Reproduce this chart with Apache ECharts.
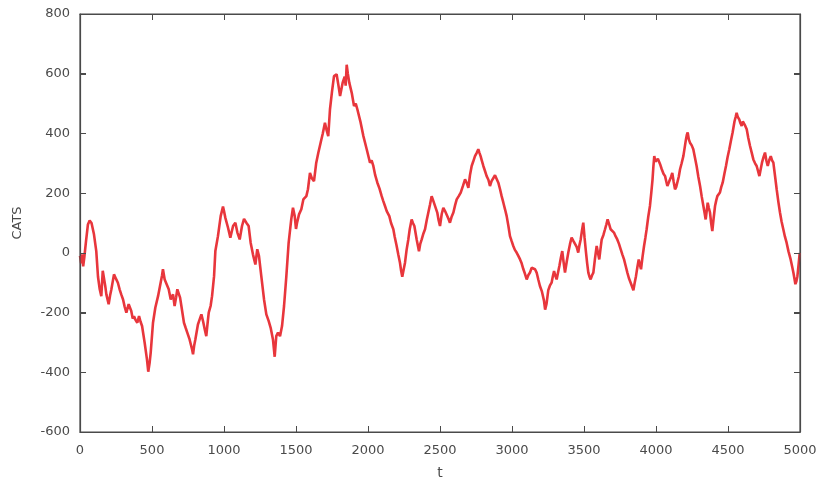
<!DOCTYPE html>
<html>
<head>
<meta charset="utf-8">
<script src="https://cdn.jsdelivr.net/npm/echarts@6/dist/echarts.min.js"></script>
<style>
  html, body { margin: 0; padding: 0; background: #ffffff; }
  #chart { width: 822px; height: 491px; }
</style>
</head>
<body>
<div id="chart"></div>
<script>
// Time steps of the walk
const tValues = [
  0, 8, 15, 22, 30, 42, 55, 67, 80, 97, 113, 125, 137, 148, 158, 167, 175, 183, 199, 210,
  218, 236, 252, 263, 275, 287, 299, 310, 322, 338, 356, 366, 375, 386, 398, 410, 420, 431, 449, 465,
  474, 483, 491, 507, 523, 542, 560, 570, 576, 588, 600, 616, 630, 646, 657, 667, 676, 685, 695, 704,
  722, 733, 745, 761, 778, 785, 793, 801, 819, 831, 843, 855, 866, 877, 885, 894, 907, 917, 931, 940,
  958, 977, 993, 1000, 1009, 1028, 1044, 1063, 1079, 1093, 1109, 1125, 1139, 1155, 1171, 1185, 1201, 1218, 1231, 1243,
  1259, 1278, 1294, 1310, 1324, 1340, 1352, 1363, 1375, 1389, 1403, 1417, 1433, 1449, 1467, 1479, 1491, 1500, 1507, 1521,
  1537, 1551, 1572, 1583, 1597, 1610, 1625, 1640, 1655, 1671, 1686, 1701, 1713, 1724, 1736, 1750, 1764, 1782, 1795, 1806,
  1824, 1838, 1845, 1852, 1860, 1870, 1887, 1903, 1915, 1926, 1949, 1968, 1991, 2014, 2025, 2037, 2050, 2065, 2080, 2095,
  2105, 2118, 2130, 2148, 2160, 2176, 2185, 2199, 2210, 2222, 2230, 2238, 2248, 2257, 2268, 2280, 2290, 2303, 2312, 2322,
  2338, 2354, 2363, 2373, 2385, 2396, 2408, 2419, 2430, 2442, 2453, 2465, 2481, 2490, 2500, 2512, 2523, 2535, 2546, 2558,
  2569, 2580, 2593, 2605, 2616, 2630, 2644, 2660, 2674, 2685, 2697, 2708, 2720, 2730, 2743, 2755, 2766, 2774, 2782, 2790,
  2801, 2812, 2824, 2836, 2847, 2858, 2870, 2882, 2894, 2905, 2917, 2928, 2940, 2952, 2963, 2975, 2986, 2997, 3009, 3020,
  3032, 3044, 3056, 3067, 3079, 3090, 3102, 3113, 3125, 3136, 3148, 3160, 3171, 3183, 3194, 3208, 3222, 3230, 3240, 3252,
  3263, 3275, 3283, 3292, 3300, 3310, 3320, 3329, 3340, 3349, 3358, 3368, 3380, 3391, 3403, 3414, 3426, 3438, 3449, 3460,
  3468, 3477, 3486, 3495, 3504, 3514, 3522, 3530, 3538, 3546, 3556, 3565, 3576, 3588, 3597, 3606, 3615, 3623, 3635, 3646,
  3655, 3664, 3675, 3685, 3697, 3708, 3720, 3731, 3743, 3755, 3766, 3778, 3790, 3801, 3812, 3824, 3833, 3843, 3852, 3861,
  3870, 3880, 3888, 3896, 3906, 3917, 3926, 3935, 3946, 3958, 3967, 3976, 3982, 3988, 3996, 4005, 4013, 4021, 4030, 4040,
  4052, 4063, 4071, 4079, 4088, 4097, 4105, 4113, 4122, 4132, 4140, 4148, 4158, 4167, 4178, 4190, 4200, 4208, 4214, 4220,
  4228, 4236, 4248, 4259, 4270, 4282, 4294, 4306, 4317, 4329, 4337, 4345, 4352, 4359, 4367, 4375, 4383, 4391, 4400, 4410,
  4418, 4426, 4435, 4444, 4453, 4463, 4475, 4486, 4497, 4509, 4520, 4532, 4545, 4553, 4560, 4568, 4578, 4586, 4595, 4603,
  4611, 4620, 4630, 4641, 4653, 4665, 4676, 4688, 4699, 4708, 4718, 4727, 4736, 4746, 4757, 4766, 4776, 4786, 4797, 4806,
  4815, 4826, 4838, 4850, 4861, 4872, 4884, 4895, 4907, 4920, 4935, 4945, 4954, 4961, 4968, 4975, 4982, 4990, 4998
];

// CATS value at each step
const catsValues = [
  -10, -35, -5, -45, -15, 40, 95, 108, 100, 62, 6, -80, -122, -145, -60, -55, -110, -139, -172, -140,
  -122, -72, -89, -100, -122, -140, -156, -180, -200, -172, -195, -220, -212, -225, -234, -212, -230, -245, -301, -357,
  -398, -370, -334, -234, -184, -145, -100, -75, -55, -89, -83, -122, -156, -139, -178, -150, -122, -117, -150, -178,
  -234, -250, -267, -290, -323, -340, -310, -290, -240, -223, -206, -230, -256, -279, -240, -200, -178, -145, -78, 6,
  56, 123, 155, 140, 118, 84, 51, 90, 101, 68, 45, 90, 114, 101, 90, 34, -5, -39, 12, -11,
  -78, -156, -206, -228, -251, -290, -348, -279, -267, -279, -245, -178, -78, 34, 112, 151, 123, 80, 100, 129,
  146, 179, 190, 213, 268, 250, 240, 300, 335, 369, 400, 436, 410, 391, 481, 540, 592, 598, 560, 525,
  570, 590, 560, 630, 600, 570, 536, 492, 500, 481, 436, 391, 347, 302, 310, 291, 260, 235, 215, 190,
  175, 157, 140, 123, 100, 79, 55, 23, -5, -33, -60, -80, -55, -33, 10, 45, 80, 112, 100, 90,
  45, 5, 30, 45, 65, 79, 110, 135, 160, 190, 175, 179, 135, 110, 90, 130, 151, 140, 135, 115,
  101, 120, 135, 160, 179, 190, 202, 225, 246, 235, 218, 260, 291, 305, 324, 335, 347, 335, 324, 310,
  291, 275, 257, 245, 224, 240, 246, 260, 257, 235, 213, 190, 168, 145, 123, 90, 56, 40, 23, 10,
  1, -10, -22, -35, -55, -70, -89, -75, -66, -50, -44, -55, -66, -90, -111, -130, -160, -190, -170, -125,
  -110, -100, -80, -61, -75, -89, -65, -44, -15, 6, -30, -66, -30, 1, 30, 51, 40, 34, 20, 1,
  25, 45, 75, 101, 50, 1, -35, -66, -80, -89, -75, -66, -20, 23, 0, -22, 15, 45, 60, 79,
  95, 112, 95, 79, 75, 68, 55, 45, 30, 12, -5, -22, -45, -66, -85, -100, -112, -125, -100, -78,
  -50, -22, -40, -55, -15, 23, 50, 79, 120, 157, 200, 246, 290, 324, 305, 302, 315, 313, 295, 280,
  265, 257, 240, 224, 235, 246, 255, 268, 240, 213, 220, 224, 255, 280, 300, 324, 355, 380, 395, 403,
  380, 369, 360, 347, 320, 291, 255, 224, 190, 157, 135, 112, 140, 168, 150, 135, 100, 73, 115, 157,
  175, 190, 195, 202, 220, 235, 265, 291, 320, 347, 375, 403, 440, 455, 469, 455, 447, 435, 425, 440,
  436, 425, 414, 385, 358, 335, 313, 300, 291, 275, 257, 280, 302, 320, 336, 310, 291, 310, 324, 310,
  302, 260, 213, 170, 135, 105, 79, 55, 34, 5, -22, -45, -66, -85, -105, -95, -78, -40, 0
];

// Axis ranges and steps
const xRange = [0, 5000];
const xStep = 500;
const yRange = [-600, 800];
const yStep = 200;

const points = tValues.map((t, i) => [t, catsValues[i]]);

const AXIS_COLOR = '#4a4a4a';
const TICK_LEN = 6;

function frameLine() {
  return { show: true, onZero: false, lineStyle: { color: AXIS_COLOR, width: 1.2 } };
}
function innerTick() {
  return { show: true, inside: true, length: TICK_LEN, lineStyle: { color: AXIS_COLOR, width: 1 } };
}
function xAxisDef(extra) {
  return Object.assign({
    type: 'value', min: xRange[0], max: xRange[1], interval: xStep,
    axisLine: frameLine(), axisTick: innerTick(), splitLine: { show: false }
  }, extra);
}
function yAxisDef(extra) {
  return Object.assign({
    type: 'value', min: yRange[0], max: yRange[1], interval: yStep,
    axisLine: frameLine(), axisTick: innerTick(), splitLine: { show: false }
  }, extra);
}

const chart = echarts.init(document.getElementById('chart'));
chart.setOption({
  animation: false,
  grid: { left: 80, right: 22, top: 14, bottom: 59 },
  xAxis: [
    xAxisDef({
      position: 'bottom',
      name: 't', nameLocation: 'middle', nameGap: 34,
      nameTextStyle: { color: AXIS_COLOR, fontFamily: 'DejaVu Sans', fontSize: 14 },
      axisLabel: { formatter: v => String(v), color: AXIS_COLOR, fontFamily: 'DejaVu Sans', fontSize: 13, margin: 12 }
    }),
    xAxisDef({ position: 'top', axisLabel: { show: false } })
  ],
  yAxis: [
    yAxisDef({
      position: 'left',
      name: 'CATS', nameLocation: 'middle', nameGap: 56, nameRotate: 90,
      nameTextStyle: { color: AXIS_COLOR, fontFamily: 'DejaVu Sans', fontSize: 13 },
      axisLabel: { formatter: v => String(v), color: AXIS_COLOR, fontFamily: 'DejaVu Sans', fontSize: 13, margin: 10 }
    }),
    yAxisDef({ position: 'right', axisLabel: { show: false } })
  ],
  series: [
    {
      type: 'line',
      data: points,
      showSymbol: false,
      lineStyle: { color: '#e8363c', width: 2.6 }
    }
  ]
});

// Plot frame with inward ticks on all four sides, placed through the axis scales
(function drawFrame() {
  const finder = { xAxisIndex: 0, yAxisIndex: 0 };
  const topLeft = chart.convertToPixel(finder, [xRange[0], yRange[1]]);
  const bottomRight = chart.convertToPixel(finder, [xRange[1], yRange[0]]);
  const left = topLeft[0], top = topLeft[1], right = bottomRight[0], bottom = bottomRight[1];
  const stroke = { stroke: AXIS_COLOR, lineWidth: 1 };
  const elements = [{
    type: 'rect', silent: true, z: 100,
    shape: { x: left, y: top, width: right - left, height: bottom - top },
    style: { fill: 'transparent', stroke: AXIS_COLOR, lineWidth: 1.2 }
  }];
  for (let v = xRange[0]; v <= xRange[1]; v += xStep) {
    const px = Math.round(chart.convertToPixel({ xAxisIndex: 0 }, v)) + 0.5;
    elements.push({ type: 'line', silent: true, z: 100, shape: { x1: px, y1: bottom, x2: px, y2: bottom - TICK_LEN }, style: stroke });
    elements.push({ type: 'line', silent: true, z: 100, shape: { x1: px, y1: top, x2: px, y2: top + TICK_LEN }, style: stroke });
  }
  for (let v = yRange[0]; v <= yRange[1]; v += yStep) {
    const py = Math.round(chart.convertToPixel({ yAxisIndex: 0 }, v)) + 0.5;
    elements.push({ type: 'line', silent: true, z: 100, shape: { x1: left, y1: py, x2: left + TICK_LEN, y2: py }, style: stroke });
    elements.push({ type: 'line', silent: true, z: 100, shape: { x1: right, y1: py, x2: right - TICK_LEN, y2: py }, style: stroke });
  }
  chart.setOption({ graphic: { elements: elements } });
})();
</script>
</body>
</html>
